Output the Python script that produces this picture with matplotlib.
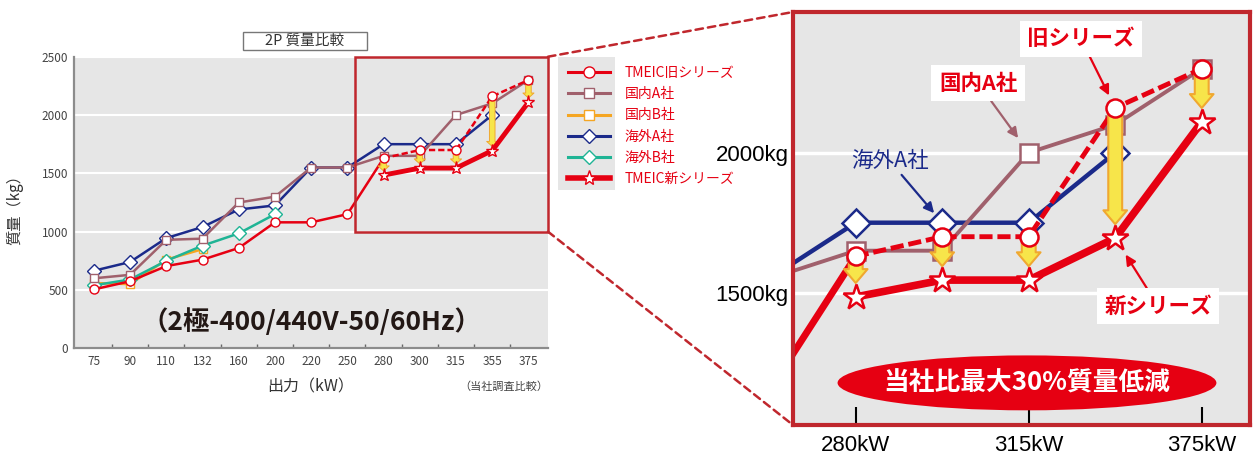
import numpy as np
import matplotlib
matplotlib.use("Agg")
import matplotlib.pyplot as plt
from matplotlib.patches import Rectangle, Ellipse, ConnectionPatch
from matplotlib.lines import Line2D

plt.rcParams['font.family'] = ['Noto Sans CJK JP', 'DejaVu Sans']

# ── data ────────────────────────────────────────────────────────────────────
power = ['75', '90', '110', '132', '160', '200', '220', '250', '280', '300', '315', '355', '375']
nan = np.nan
tmeic_old = [505, 575, 705, 760, 860, 1080, 1080, 1150, 1630, 1700, 1700, 2160, 2300]
tmeic_new = [nan, nan, nan, nan, nan, nan, nan, nan, 1485, 1545, 1545, 1695, 2110]
dom_a = [600, 630, 930, 940, 1250, 1300, 1550, 1550, 1650, 1650, 2000, 2100, 2300]
dom_b = [560, 550, 760, 850, nan, nan, nan, nan, nan, nan, nan, nan, nan]
ovs_a = [665, 740, 945, 1040, 1190, 1225, 1550, 1550, 1750, 1750, 1750, 2000, nan]
ovs_b = [540, 590, 750, 880, 985, 1150, nan, nan, nan, nan, nan, nan, nan]
labels = ['TMEIC旧シリーズ', '国内A社', '国内B社', '海外A社', '海外B社', 'TMEIC新シリーズ']

# ── colours ─────────────────────────────────────────────────────────────────
RED = '#e60012'
MAUVE = '#a0606c'
ORANGE = '#f5a623'
NAVY = '#1b2a8a'
TEAL = '#1fb495'
BOX = '#c0272d'
BG = '#e6e6e6'
YEL = '#f7e54a'
YEL_EDGE = '#f0a830'

W, H = 1254, 454


def px_rect(x0, y0, x1, y1):
    """pixel box (top-left origin) -> figure fraction [l, b, w, h]"""
    return [x0 / W, 1 - y1 / H, (x1 - x0) / W, (y1 - y0) / H]


def draw_series(ax, big):
    x = np.arange(len(power))
    s = dict(lw=3.2 if big else 1.8, mew=1.8 if big else 1.0, mfc='white')
    ms_d, ms_s, ms_o, ms_st = (14, 13, 13, 19) if big else (7, 6, 6.5, 9.5)

    ax.plot(x, ovs_a, color=NAVY, marker='D', ms=ms_d, mec=NAVY, zorder=2, **s)
    if not big:
        ax.plot(x, dom_b, color=ORANGE, marker='s', ms=ms_s, mec=ORANGE, zorder=2.1, **s)
        ax.plot(x, ovs_b, color=TEAL, marker='D', ms=ms_d, mec=TEAL, zorder=2.2, **s)
    ax.plot(x, dom_a, color=MAUVE, marker='s', ms=ms_s, mec=MAUVE, zorder=2.3,
            **{**s, 'lw': 2.8 if big else 1.8})

    old = np.array(tmeic_old, float)
    new = np.array(tmeic_new, float)
    ax.plot(x[:9], old[:9], color=RED, lw=5 if big else 1.8, zorder=2.5,
            solid_capstyle='butt')
    ax.plot(x[8:], old[8:], color=RED, lw=3.5 if big else 1.8,
            dashes=(2.7, 1.0) if big else (2.5, 1.2), zorder=2.5)

    # yellow reduction arrows old -> new
    if big:
        style = 'simple,head_length=0.5,head_width=0.85,tail_width=0.5'
        ms_arrow, lw_arrow, shr = 20, 1.5, 10
    else:
        style = 'simple,head_length=0.45,head_width=1.0,tail_width=0.5'
        ms_arrow, lw_arrow, shr = 8, 0.7, 3
    for i in x:
        if np.isnan(new[i]):
            continue
        ax.annotate('', xy=(i, new[i]), xytext=(i, old[i]), zorder=3,
                    arrowprops=dict(arrowstyle=style, fc=YEL, ec=YEL_EDGE, lw=lw_arrow,
                                    shrinkA=0, shrinkB=shr, mutation_scale=ms_arrow))

    ax.plot(x, new, color=RED, lw=5.5 if big else 3.5, zorder=3.5, solid_joinstyle='miter')
    ax.plot(x, old, ls='none', marker='o', ms=ms_o, mfc='white', mec=RED,
            mew=s['mew'], zorder=5)
    ax.plot(x, new, ls='none', marker='*', ms=ms_st, mfc='white', mec=RED,
            mew=s['mew'], zorder=5)


fig = plt.figure(figsize=(W / 100, H / 100), dpi=100)

# ── left: full chart ────────────────────────────────────────────────────────
ax = fig.add_axes(px_rect(74, 56.7, 548, 348.3))
ax.set_facecolor(BG)
draw_series(ax, big=False)
ax.set_xlim(-0.55, 12.54)
ax.set_ylim(0, 2500)
ax.set_yticks(np.arange(0, 2501, 500))
ax.grid(axis='y', color='white', lw=1.5)
ax.set_axisbelow(True)
ax.set_xticks(np.arange(len(power)), power)
ax.set_xticks(np.arange(0.5, len(power) - 1), minor=True)
ax.tick_params(axis='x', which='major', length=0, pad=5, labelsize=8.5, labelcolor='#444444')
ax.tick_params(axis='x', which='minor', direction='in', length=3, width=1, color='#666666')
ax.tick_params(axis='y', length=0, pad=4, labelsize=8.5, labelcolor='#444444')
for side in ('top', 'right'):
    ax.spines[side].set_visible(False)
for side in ('left', 'bottom'):
    ax.spines[side].set_color('#8c8c8c')
    ax.spines[side].set_linewidth(1.6)

ax.text(0.5, 0.09, '（2極-400/440V-50/60Hz）', transform=ax.transAxes, ha='center',
        va='center', fontsize=19, fontweight='bold', color='#231815')
ax.text(0.5, -0.133, '出力（kW）', transform=ax.transAxes, ha='center', va='center',
        fontsize=11.5, color='#333333')
ax.text(1.0, -0.133, '（当社調査比較）', transform=ax.transAxes, ha='right', va='center',
        fontsize=8, color='#444444')
fig.text(15 / W, 1 - 206 / H, '質量（kg）', rotation=90, ha='center', va='center',
         fontsize=11, color='#333333')

# title box
fig.patches.append(Rectangle((243 / W, 1 - 50 / H), 124 / W, 18 / H, transform=fig.transFigure,
                             fc='white', ec='#777777', lw=1.0))
fig.text(305 / W, 1 - 41 / H, '2P 質量比較', ha='center', va='center', fontsize=10.5,
         color='#333333')

# zoom frame on the left chart
x_right = ax.get_xlim()[1]
ax.add_patch(Rectangle((7.2, 1000), x_right - 7.2, 1500, fc='none', ec=BOX, lw=1.8,
                       clip_on=False, zorder=6))

# ── legend ──────────────────────────────────────────────────────────────────
fig.patches.append(Rectangle((558 / W, 1 - 190 / H), 57 / W, 133 / H, transform=fig.transFigure,
                             fc=BG, ec='none', zorder=0))
handles = [
    Line2D([], [], color=RED, lw=2.2, marker='o', ms=8, mfc='white', mec=RED),
    Line2D([], [], color=MAUVE, lw=2.2, marker='s', ms=7, mfc='white', mec=MAUVE),
    Line2D([], [], color=ORANGE, lw=2.2, marker='s', ms=7, mfc='white', mec=ORANGE),
    Line2D([], [], color=NAVY, lw=2.2, marker='D', ms=7, mfc='white', mec=NAVY),
    Line2D([], [], color=TEAL, lw=2.2, marker='D', ms=7, mfc='white', mec=TEAL),
    Line2D([], [], color=RED, lw=4, marker='*', ms=11, mfc='white', mec=RED),
]
fig.legend(handles, labels, loc='upper left', bbox_to_anchor=(568 / W, 1 - 66 / H),
           frameon=False, fontsize=10, labelcolor=RED, handlelength=3.0, handletextpad=1.08,
           labelspacing=0.52, borderpad=0, borderaxespad=0)

# ── right: zoomed panel ─────────────────────────────────────────────────────
ax2 = fig.add_axes(px_rect(793, 12, 1250, 425))
ax2.set_facecolor(BG)
draw_series(ax2, big=True)
ax2.set_xlim(7.275, 12.558)
ax2.set_ylim(1027.5, 2502.5)
ax2.set_yticks([1500, 2000], ['1500kg', '2000kg'])
ax2.grid(axis='y', color='white', lw=2.5)
ax2.set_axisbelow(True)
tick_idx = [8, 10, 12]
ax2.set_xticks(tick_idx, [f'{power[i]}kW' for i in tick_idx])
for lab in ax2.get_xticklabels() + ax2.get_yticklabels():
    lab.set_fontfamily('Liberation Sans')
    lab.set_fontsize(16)
ax2.tick_params(axis='y', length=0, pad=3)
ax2.tick_params(axis='x', direction='in', length=13, width=1.5, color='black', pad=7)
for sp in ax2.spines.values():
    sp.set_color(BOX)
    sp.set_linewidth(3)
    sp.set_zorder(8)

ann_kw = dict(textcoords='axes fraction', ha='center', va='center', fontsize=15.5, zorder=6)
box_kw = dict(boxstyle='square,pad=0.35', fc='white', ec='none')
ax2.annotate('旧シリーズ', xy=(11, tmeic_old[11]), xytext=(0.630, 0.935), color=RED,
             fontweight='bold', bbox=box_kw,
             arrowprops=dict(arrowstyle='-|>', color=RED, lw=1.6, mutation_scale=15,
                             shrinkA=0, shrinkB=10), **ann_kw)
ax2.annotate('国内A社', xy=(10, dom_a[10]), xytext=(0.405, 0.828), color=RED,
             fontweight='bold', bbox=box_kw,
             arrowprops=dict(arrowstyle='-|>', color=MAUVE, lw=1.6, mutation_scale=15,
                             shrinkA=0, shrinkB=13), **ann_kw)
ax2.annotate('海外A社', xy=(9, ovs_a[9]), xytext=(0.212, 0.639), color=NAVY,
             arrowprops=dict(arrowstyle='-|>', color=NAVY, lw=1.6, mutation_scale=15,
                             shrinkA=0, shrinkB=9), **ann_kw)
ax2.annotate('新シリーズ', xy=(11, tmeic_new[11]), xytext=(0.799, 0.288), color=RED,
             fontweight='bold', bbox=box_kw,
             arrowprops=dict(arrowstyle='-|>', color=RED, lw=1.6, mutation_scale=15,
                             shrinkA=0, shrinkB=14), **ann_kw)

ax2.add_patch(Ellipse((0.512, 0.102), 0.829, 0.133, transform=ax2.transAxes, fc=RED,
                      ec='none', zorder=7))
ax2.text(0.512, 0.102, '当社比最大30%質量低減', transform=ax2.transAxes, ha='center',
         va='center', fontsize=18.5, fontweight='bold', color='white', zorder=7.5)

# dashed connectors between the frames
for yv, ya in ((2500, 1), (1000, 0)):
    fig.add_artist(ConnectionPatch(xyA=(x_right, yv), coordsA=ax.transData,
                                   xyB=(0, ya), coordsB=ax2.transAxes,
                                   color=BOX, lw=1.8, ls=(0, (3, 2))))

fig.savefig('out.png', dpi=100)
